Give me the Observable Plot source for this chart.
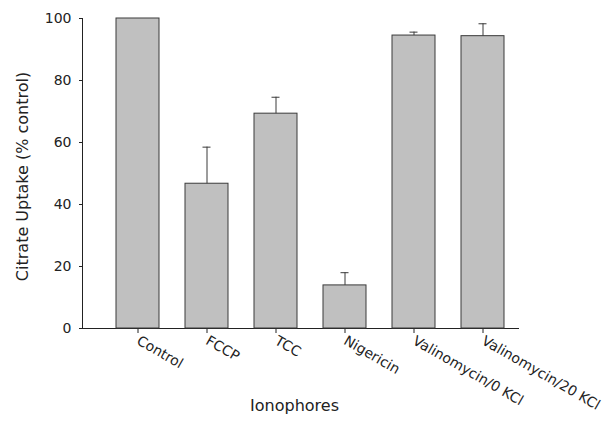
<!DOCTYPE html>
<html>
<head>
<meta charset="utf-8">
<script src="https://cdn.jsdelivr.net/npm/d3@7"></script>
<script src="https://cdn.jsdelivr.net/npm/@observablehq/plot@0.6"></script>
<style>
  html, body { margin: 0; padding: 0; background: white; }
</style>
</head>
<body>
<div id="chart"></div>
<script>
const categories = ["Control", "FCCP", "TCC", "Nigericin", "Valinomycin/0 KCl", "Valinomycin/20 KCl"];
const values = [100, 46.7, 69.3, 13.9, 94.5, 94.3];
const errors = [0, 11.8, 5.3, 4.1, 1.1, 4.0];
const yTicks = [0, 20, 40, 60, 80, 100];
const xTitle = "Ionophores";
const yTitle = "Citrate Uptake (% control)";

const data = categories.map((c, i) => ({name: c, value: values[i], hi: values[i] + errors[i], err: errors[i]}));
const withErr = data.filter(d => d.err > 0);

const ink = "#222";
const chart = Plot.plot({
  width: 614,
  height: 422,
  marginLeft: 82,
  marginRight: 96,
  marginTop: 18,
  marginBottom: 94,
  style: {fontFamily: "'DejaVu Sans', sans-serif", fontSize: "14px", color: ink, background: "white", overflow: "visible"},
  x: {domain: categories, range: [115, 505], paddingInner: 0.38, paddingOuter: 0, label: null, tickSize: 5, tickRotate: 30, tickPadding: 6, line: true},
  y: {domain: [0, 100], ticks: yTicks, tickSize: 3, tickPadding: 8, label: null, line: true},
  marks: [
    Plot.barY(data, {x: "name", y: "value", fill: "#c0c0c0", stroke: "#3a3a3a", strokeWidth: 1}),
    Plot.ruleX(withErr, {x: "name", y1: "value", y2: "hi", stroke: "#3a3a3a", strokeWidth: 1}),
    Plot.tickY(withErr, {x: "name", y: "hi", stroke: "#3a3a3a", strokeWidth: 1, insetLeft: 17.5, insetRight: 17.5}),
    Plot.text([xTitle], {frameAnchor: "bottom", dy: 82, dx: -6, fontSize: 16, fill: ink}),
    Plot.text([yTitle], {frameAnchor: "left", textAnchor: "middle", rotate: -90, dx: -60, dy: 3, fontSize: 16, fill: ink})
  ]
});
document.getElementById("chart").appendChild(chart);
</script>
</body>
</html>
